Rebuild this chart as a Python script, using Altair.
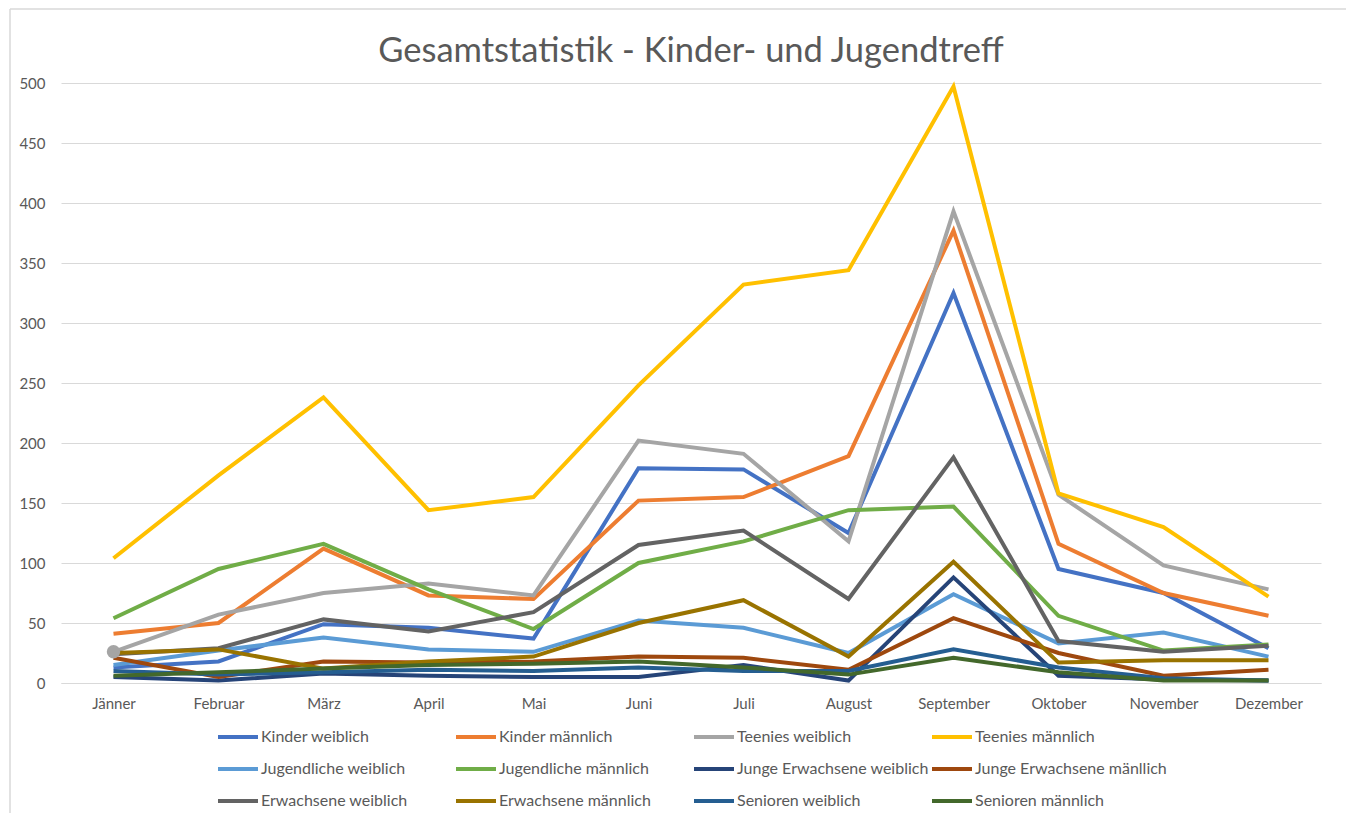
import altair as alt
import pandas as pd

months = ["Jänner", "Februar", "März", "April", "Mai", "Juni", "Juli",
          "August", "September", "Oktober", "November", "Dezember"]

series_names = [
    "Kinder weiblich", "Kinder männlich", "Teenies weiblich", "Teenies männlich",
    "Jugendliche weiblich", "Jugendliche männlich", "Junge Erwachsene weiblich",
    "Junge Erwachsene mänllich", "Erwachsene weiblich", "Erwachsene männlich",
    "Senioren weiblich", "Senioren männlich",
]

kinder_w = [13, 18, 49, 46, 37, 179, 178, 125, 325, 95, 75, 29]
kinder_m = [41, 50, 112, 73, 70, 152, 155, 189, 377, 116, 75, 56]
teenies_w = [26, 57, 75, 83, 73, 202, 191, 118, 393, 157, 98, 78]
teenies_m = [104, 173, 238, 144, 155, 248, 332, 344, 497, 158, 130, 72]
jugend_w = [15, 27, 38, 28, 26, 52, 46, 25, 74, 33, 42, 22]
jugend_m = [54, 95, 116, 78, 45, 100, 118, 144, 147, 56, 27, 32]
junge_w = [5, 2, 8, 6, 5, 5, 15, 2, 88, 6, 3, 2]
junge_m = [21, 5, 18, 17, 18, 22, 21, 11, 54, 25, 6, 11]
erw_w = [24, 29, 53, 43, 59, 115, 127, 70, 188, 35, 26, 31]
erw_m = [25, 28, 12, 18, 22, 50, 69, 22, 101, 17, 19, 19]
senioren_w = [10, 7, 9, 11, 10, 13, 10, 10, 28, 13, 4, 2]
senioren_m = [6, 9, 12, 15, 16, 18, 13, 7, 21, 9, 2, 2]

all_values = [kinder_w, kinder_m, teenies_w, teenies_m, jugend_w, jugend_m,
              junge_w, junge_m, erw_w, erw_m, senioren_w, senioren_m]

colors = ["#4472C4", "#ED7D31", "#A5A5A5", "#FFC000", "#5B9BD5", "#70AD47",
          "#264478", "#9E480E", "#636363", "#997300", "#255E91", "#43682B"]

rows = []
for i, (name, vals) in enumerate(zip(series_names, all_values)):
    for m, v in zip(months, vals):
        rows.append({"Monat": m, "Wert": v, "Serie": name, "order": i})
df = pd.DataFrame(rows)

FONT = "Lato"
GREY = "#595959"

x_enc = alt.X("Monat:N", sort=months, title=None,
              scale=alt.Scale(type="point", padding=0.5),
              axis=alt.Axis(labelAngle=0, labelFontSize=15, labelColor=GREY,
                            labelFont=FONT, ticks=False, domainColor="#D9D9D9",
                            domainWidth=1, labelPadding=13, grid=False))
y_enc = alt.Y("Wert:Q", title=None,
              scale=alt.Scale(domain=[0, 500], nice=False),
              axis=alt.Axis(values=list(range(0, 501, 50)), labelFontSize=15,
                            labelColor=GREY, labelFont=FONT, ticks=False,
                            domain=False, gridColor="#D9D9D9", gridWidth=1,
                            labelPadding=16))

color_enc = alt.Color("Serie:N", sort=series_names,
                      scale=alt.Scale(domain=series_names, range=colors),
                      legend=alt.Legend(title=None, orient="none", legendX=155,
                                        legendY=632, columns=4,
                                        direction="horizontal",
                                        symbolType="stroke", symbolSize=1600,
                                        symbolStrokeWidth=4, labelFontSize=16,
                                        labelColor=GREY, labelFont=FONT,
                                        labelOffset=1, columnPadding=-5,
                                        rowPadding=2, gridAlign="all",
                                        labelLimit=300))

lines = alt.Chart(df).mark_line(strokeWidth=4, strokeJoin="miter").encode(
    x=x_enc, y=y_enc, color=color_enc, order=alt.Order("order:Q")
)

marker = alt.Chart(df[(df["Serie"] == "Teenies weiblich") & (df["Monat"] == "Jänner")]).mark_circle(
    size=180, opacity=1, color="#A5A5A5"
).encode(x=alt.X("Monat:N", sort=months), y="Wert:Q")

# chart-area frame (left and top edges, as visible in the reference)
frame_top = alt.Chart().mark_rule(color="#D9D9D9", strokeWidth=1.5, clip=False).encode(
    x=alt.value(-51), x2=alt.value(1300), y=alt.value(-74)
)
frame_left = alt.Chart().mark_rule(color="#D9D9D9", strokeWidth=1.5, clip=False).encode(
    x=alt.value(-51), y=alt.value(-74), y2=alt.value(760)
)

chart = alt.layer(frame_top, frame_left, lines, marker).properties(
    width=1260, height=600,
    title=alt.TitleParams("Gesamtstatistik - Kinder- und Jugendtreff",
                          fontSize=34.5, font=FONT, fontWeight="normal",
                          color=GREY, anchor="middle", offset=-61),
    autosize=alt.AutoSizeParams(type="none"),
    padding={"left": 53, "top": 75, "right": 25, "bottom": 130},
).configure_view(stroke=None)

chart.save("out.html", embed_options={"renderer": "svg", "actions": False})
